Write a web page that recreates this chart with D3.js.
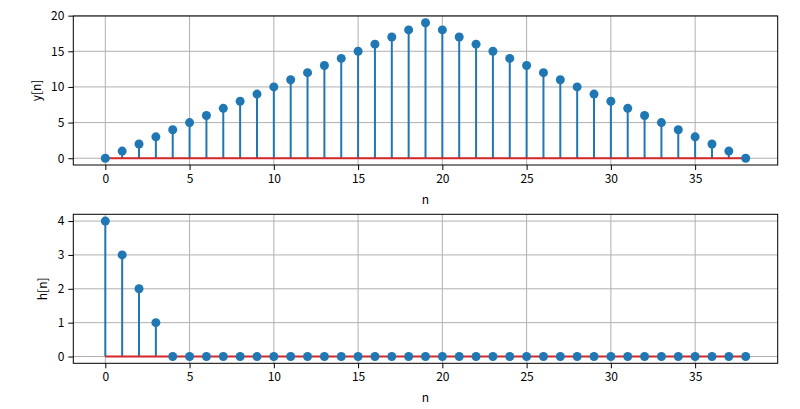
<!DOCTYPE html>
<html><head><meta charset="utf-8">
<script src="https://cdn.jsdelivr.net/npm/d3@7"></script>
<style>
body{margin:0;background:#fff;}
text{font-family:"Noto Sans CJK SC","DejaVu Sans",sans-serif;font-size:12px;fill:#000;}
</style></head><body>
<svg id="c" width="800" height="409"></svg>
<script>
const n = d3.range(0, 39);
const yVals = [0,1,2,3,4,5,6,7,8,9,10,11,12,13,14,15,16,17,18,19,18,17,16,15,14,13,12,11,10,9,8,7,6,5,4,3,2,1,0];
const hVals = [4,3,2,1,0,0,0,0,0,0,0,0,0,0,0,0,0,0,0,0,0,0,0,0,0,0,0,0,0,0,0,0,0,0,0,0,0,0,0];
const xTicks = [0,5,10,15,20,25,30,35];
const yTicksTop = [0,5,10,15,20];
const yTicksBot = [0,1,2,3,4];

const svg = d3.select("#c");
const L = 73.3, R = 777.7;

function panel(top, bottom, vals, yDomain, yTicks, ylab, ylabX) {
  const x = d3.scaleLinear().domain([-1.9, 39.9]).range([L, R]);
  const y = d3.scaleLinear().domain(yDomain).range([bottom, top]);
  const g = svg.append("g");
  // grid
  g.selectAll(".gx").data(xTicks).join("line")
    .attr("x1", d => x(d)).attr("x2", d => x(d)).attr("y1", top).attr("y2", bottom)
    .attr("stroke", "#b0b0b0").attr("stroke-width", 1);
  g.selectAll(".gy").data(yTicks).join("line")
    .attr("y1", d => y(d)).attr("y2", d => y(d)).attr("x1", L).attr("x2", R)
    .attr("stroke", "#b0b0b0").attr("stroke-width", 1);
  // stems
  g.selectAll(".st").data(n).join("line")
    .attr("x1", d => x(d)).attr("x2", d => x(d))
    .attr("y1", y(0)).attr("y2", (d, i) => y(vals[i]))
    .attr("stroke", "#1f77b4").attr("stroke-width", 2);
  // baseline
  g.append("line").attr("x1", x(0)).attr("x2", x(38)).attr("y1", y(0)).attr("y2", y(0))
    .attr("stroke", "#d62728").attr("stroke-width", 2);
  // markers
  g.selectAll(".mk").data(n).join("circle")
    .attr("cx", d => x(d)).attr("cy", (d, i) => y(vals[i])).attr("r", 4.5)
    .attr("fill", "#1f77b4");
  // axes
  const ax = g.append("g").attr("transform", `translate(0,${bottom})`)
    .call(d3.axisBottom(x).tickValues(xTicks).tickSize(5).tickPadding(4).tickFormat(d3.format("d")));
  const ay = g.append("g").attr("transform", `translate(${L},0)`)
    .call(d3.axisLeft(y).tickValues(yTicks).tickSize(5).tickPadding(4).tickFormat(d3.format("d")));
  [ax, ay].forEach(a => {
    a.select(".domain").remove();
    a.selectAll("line").attr("stroke", "#000").attr("stroke-width", 1);
    a.selectAll("text").style("font-size", "12px").attr("fill", "#000");
  });
  g.append("rect").attr("x", L).attr("y", top).attr("width", R - L).attr("height", bottom - top)
    .attr("fill", "none").attr("stroke", "#000").attr("stroke-width", 1);
  g.append("text").attr("x", (L + R) / 2).attr("y", bottom + 39).attr("text-anchor", "middle").text("n");
  g.append("text").attr("transform", `translate(${ylabX},${(top + bottom) / 2}) rotate(-90)`)
    .attr("text-anchor", "middle").text(ylab);
}

panel(16, 165, yVals, [-0.95, 19.95], yTicksTop, "y[n]", 41);
panel(214.3, 363.3, hVals, [-0.2, 4.2], yTicksBot, "h[n]", 47);
</script>
</body></html>
